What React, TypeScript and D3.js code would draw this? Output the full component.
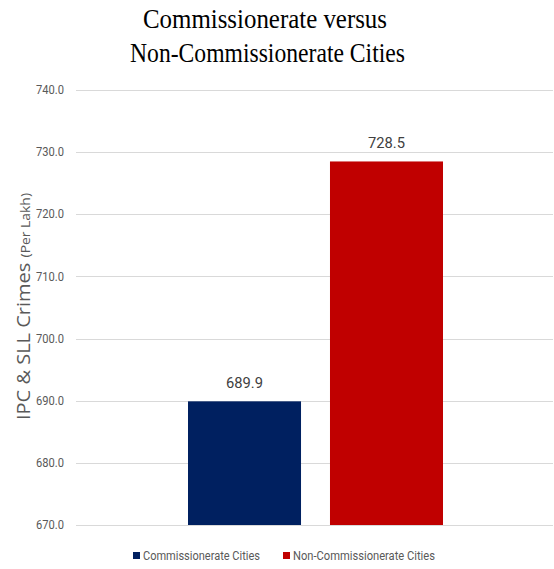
import React from "react";
import * as d3 from "d3";

const categories = ["Commissionerate Cities", "Non-Commissionerate Cities"];
const values = [689.9, 728.5];
const colors = ["#002060", "#C00000"];
const yTicks = [670, 680, 690, 700, 710, 720, 730, 740];
const titleLines = ["Commissionerate versus", "Non-Commissionerate Cities"];

const W = 554;
const H = 569;
const narrow = "Roboto, 'DejaVu Sans', sans-serif";

export default function App() {
  const y = d3.scaleLinear().domain([670, 740]).range([525, 90]);
  const x = d3
    .scaleBand<string>()
    .domain(categories)
    .range([188, 443])
    .paddingInner(0.204)
    .paddingOuter(0);
  const gridX0 = 76;
  const gridX1 = 553;
  const legendX = [133, 283];
  const legendW = [117, 142];
  const titleW = [244, 275];
  const titleCx = [265, 267.5];

  return (
    <svg
      width={W}
      height={H}
      style={{ position: "absolute", left: 0, top: 0, background: "#fff" }}
    >
      {titleLines.map((t, i) => (
        <text
          key={i}
          x={titleCx[i]}
          y={28 + i * 34}
          textAnchor="middle"
          fontFamily="'Liberation Serif', 'DejaVu Serif', serif"
          fontSize={27}
          textLength={titleW[i]}
          lengthAdjust="spacingAndGlyphs"
          fill="#000"
        >
          {t}
        </text>
      ))}
      {yTicks.map((t) => (
        <g key={t}>
          <line
            x1={gridX0}
            x2={gridX1}
            y1={Math.round(y(t)) + 0.5}
            y2={Math.round(y(t)) + 0.5}
            stroke="#d9d9d9"
            strokeWidth={1}
          />
          <text
            x={64}
            y={y(t)}
            dy="0.35em"
            textAnchor="end"
            fontFamily={narrow}
            fontSize={12}
            textLength={28}
            lengthAdjust="spacingAndGlyphs"
            fill="#595959"
          >
            {d3.format(".1f")(t)}
          </text>
        </g>
      ))}
      {categories.map((c, i) => (
        <g key={c}>
          <rect
            x={x(c)}
            y={y(values[i])}
            width={x.bandwidth()}
            height={y(670) - y(values[i])}
            fill={colors[i]}
          />
          <text
            x={(x(c) as number) + x.bandwidth() / 2}
            y={y(values[i]) - 13}
            textAnchor="middle"
            fontFamily={narrow}
            fontSize={15}
            textLength={37}
            lengthAdjust="spacingAndGlyphs"
            fill="#404040"
          >
            {d3.format(".1f")(values[i])}
          </text>
        </g>
      ))}
      <text
        transform={`translate(30, 306.5) rotate(-90)`}
        textAnchor="middle"
        fontFamily="'Open Sans', 'DejaVu Sans', sans-serif"
        fontSize={18}
        textLength={227}
        lengthAdjust="spacingAndGlyphs"
        fill="#595959"
      >
        IPC &amp; SLL Crimes <tspan fontSize={12.5}>(Per Lakh)</tspan>
      </text>
      {categories.map((c, i) => (
        <g key={c}>
          <rect x={legendX[i]} y={552} width={7} height={7} fill={colors[i]} />
          <text
            x={legendX[i] + 10}
            y={556}
            dy="0.35em"
            fontFamily={narrow}
            fontSize={12}
            textLength={legendW[i]}
            lengthAdjust="spacingAndGlyphs"
            fill="#595959"
          >
            {c}
          </text>
        </g>
      ))}
    </svg>
  );
}
